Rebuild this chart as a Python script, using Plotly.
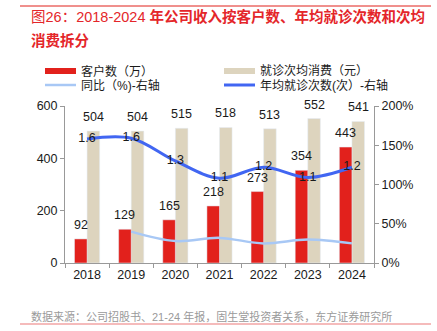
import plotly.graph_objects as go

years = ["2018", "2019", "2020", "2021", "2022", "2023", "2024"]
customers = [92, 129, 165, 218, 273, 354, 443]          # 客户数（万）
spend = [504, 504, 515, 518, 513, 552, 541]              # 就诊次均消费（元）
yoy = [None, 0.40, 0.28, 0.32, 0.25, 0.30, 0.25]         # 同比
visits = [1.58, 1.59, 1.30, 1.08, 1.22, 1.09, 1.22]      # 年均就诊次数

W, H = 437, 331
L, R, T, B = 65, 374, 106, 263
FONT = "Liberation Sans, Arial, Noto Sans CJK SC, sans-serif"

RED = "#E2211C"
BEIGE = "#DDD4BE"
DBLUE = "#4166F2"
LBLUE = "#A8C8F5"
TXT = "#1a1a1a"
BW = 0.285  # bar width in category units

def px(x):
    return (x - L) / (R - L)

def py(y):
    return (B - y) / (B - T)

fig = go.Figure()
fig.add_trace(go.Bar(x=years, y=spend, marker_color=BEIGE, name="就诊次均消费（元）",
                     offset=0, width=BW, showlegend=False))
fig.add_trace(go.Bar(x=years, y=customers, marker_color=RED, name="客户数（万）",
                     offset=-BW, width=BW, showlegend=False))
fig.add_trace(go.Scatter(x=years, y=yoy, yaxis="y2", mode="lines", line=dict(color=LBLUE, width=2.5, shape="spline"),
                         name="同比（%)-右轴", showlegend=False, connectgaps=False))
fig.add_trace(go.Scatter(x=years, y=visits, yaxis="y2", mode="lines+text", line=dict(color=DBLUE, width=3, shape="spline"),
                         texttemplate="%{y:.1f}", textposition="middle center", cliponaxis=False,
                         textfont=dict(size=12.5, color=TXT, family=FONT),
                         name="年均就诊次数(次）-右轴", showlegend=False))

shapes = []
annotations = []

# bar value labels (x given as category index)
for i, v in enumerate(customers):
    annotations.append(dict(x=i, y=v, xref="x", yref="y", xshift=-6.3, yshift=5, yanchor="bottom",
                            text=str(v), showarrow=False, font=dict(size=12.5, color=TXT, family=FONT)))
for i, v in enumerate(spend):
    annotations.append(dict(x=i, y=v, xref="x", yref="y", xshift=6.3, yshift=5, yanchor="bottom",
                            text=str(v), showarrow=False, font=dict(size=12.5, color=TXT, family=FONT)))

# top red rule and bottom pink rule
shapes.append(dict(type="line", xref="paper", yref="paper", x0=px(20), x1=px(431), y0=py(6), y1=py(6),
                   line=dict(color="#E0201B", width=1)))
shapes.append(dict(type="line", xref="paper", yref="paper", x0=px(20), x1=px(431), y0=py(324), y1=py(324),
                   line=dict(color="#F2A5A5", width=1.5)))

# title
TRED = "#E4262A"
annotations.append(dict(xref="paper", yref="paper", x=px(29), y=py(16.5), xanchor="left", yanchor="middle",
                        text="图26：2018-2024 <b>年公司收入按客户数、年均就诊次数和次均</b>", showarrow=False,
                        font=dict(size=14.5, color=TRED, family=FONT)))
annotations.append(dict(xref="paper", yref="paper", x=px(29), y=py(40), xanchor="left", yanchor="middle",
                        text="<b>消费拆分</b>", showarrow=False,
                        font=dict(size=14.5, color=TRED, family=FONT)))

# footer
annotations.append(dict(xref="paper", yref="paper", x=px(29), y=py(316), xanchor="left", yanchor="middle",
                        text="数据来源：公司招股书、21-24 年报，固生堂投资者关系，东方证券研究所", showarrow=False,
                        font=dict(size=11, color="#9A9A9A", family=FONT)))

# manual legend
legend_items = [
    ("客户数（万）", RED, 6, 45, 76, 71),
    ("就诊次均消费（元）", BEIGE, 6, 224, 255, 71),
    ("同比（%)-右轴", LBLUE, 2.5, 45, 76, 85),
    ("年均就诊次数(次）-右轴", DBLUE, 3, 224, 255, 85),
]
for label, color, width, x0, x1, y in legend_items:
    shapes.append(dict(type="line", xref="paper", yref="paper", x0=px(x0), x1=px(x1), y0=py(y), y1=py(y),
                       line=dict(color=color, width=width)))
    annotations.append(dict(xref="paper", yref="paper", x=px(x1 + 3), y=py(y), xanchor="left", yanchor="middle",
                            text=label, showarrow=False, font=dict(size=12, color=TXT, family=FONT)))

fig.update_layout(
    width=W, height=H,
    margin=dict(l=L, r=W - R, t=T, b=H - B),
    paper_bgcolor="white", plot_bgcolor="white",
    barmode="overlay",
    showlegend=False,
    font=dict(family=FONT, size=12.5, color=TXT),
    xaxis=dict(type="category", range=[-0.5, len(years) - 0.5], showline=True, linecolor="#999", linewidth=1,
               ticks="outside", tickson="boundaries",
               ticklen=4, tickcolor="#999", showgrid=False, tickfont=dict(size=12.5, color=TXT)),
    yaxis=dict(range=[0, 600], tickvals=[0, 200, 400, 600], showline=True, linecolor="#999", linewidth=1,
               ticks="outside", ticklen=4, tickcolor="#999", showgrid=False, zeroline=False,
               tickfont=dict(size=12.5, color=TXT)),
    yaxis2=dict(range=[0, 2], overlaying="y", side="right", tickvals=[0, 0.5, 1, 1.5, 2], tickformat=".0%",
                showline=True, linecolor="#999", linewidth=1, ticks="outside", ticklen=4, tickcolor="#999",
                showgrid=False, zeroline=False, tickfont=dict(size=12.5, color=TXT)),
    shapes=shapes, annotations=annotations,
)

fig.write_html("out.html")
